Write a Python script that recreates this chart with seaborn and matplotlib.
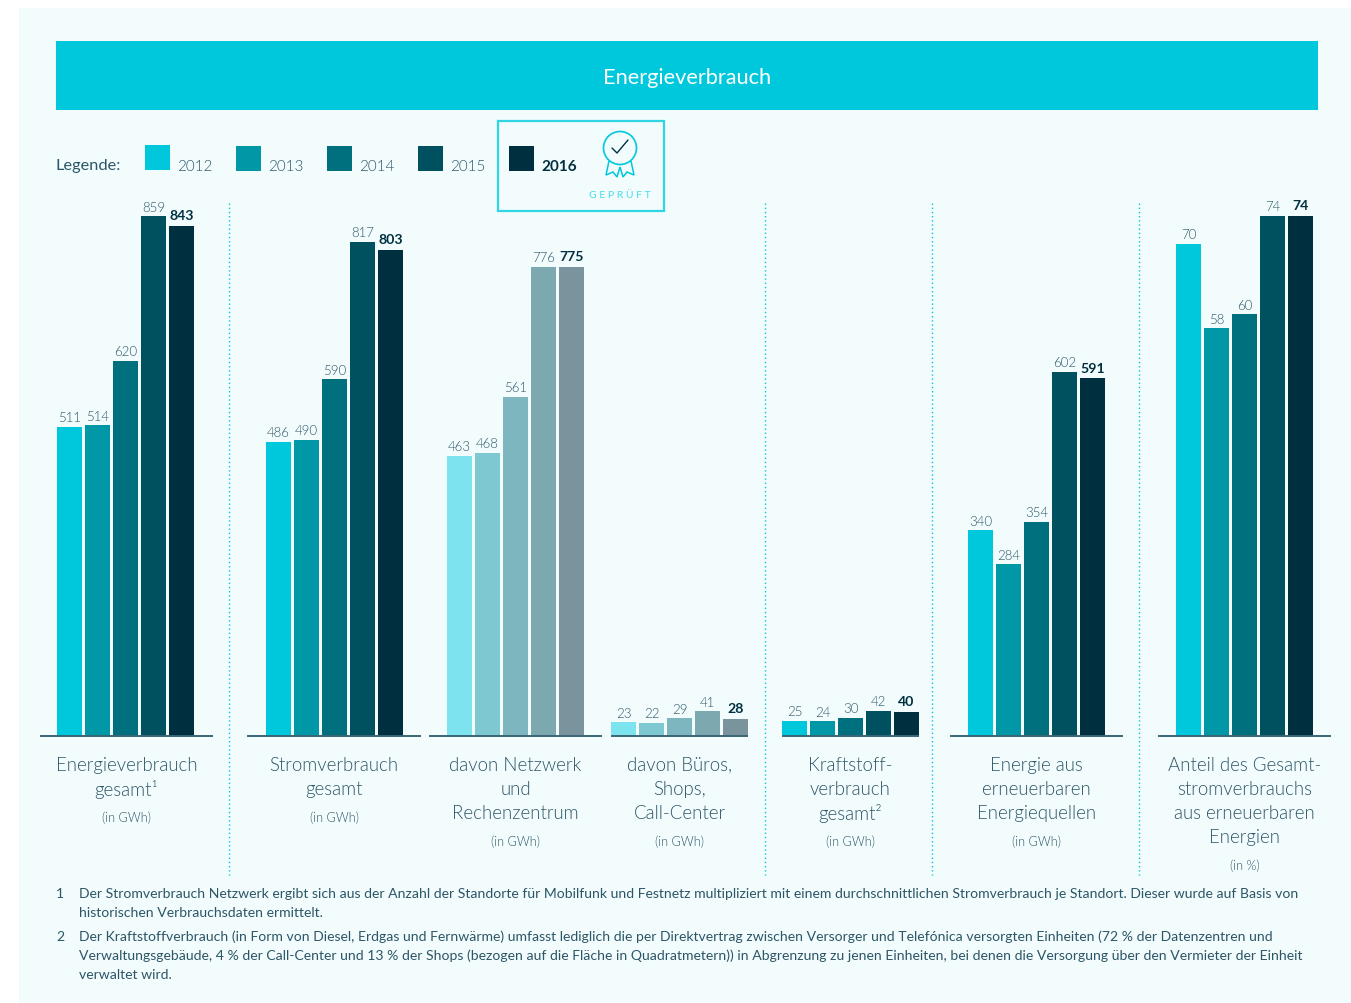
"""
Energieverbrauch Balken
"""
from matplotlib import pyplot as plt
from matplotlib.patches import Rectangle, Circle, Polygon
import pandas as pd
import seaborn as sns

W, H = 1351, 1004

years = ['2012', '2013', '2014', '2015', '2016']

gesamt = [511, 514, 620, 859, 843]
strom = [486, 490, 590, 817, 803]
netzwerk = [463, 468, 561, 776, 775]
bueros = [23, 22, 29, 41, 28]
kraftstoff = [25, 24, 30, 42, 40]
erneuerbar = [340, 284, 354, 602, 591]
anteil = [70, 58, 60, 74, 74]

colors = ['#00c8dc', '#0097a7', '#00707f', '#00515f', '#00303f']
colors_light = ['#7de3ee', '#7ec8d1', '#7eb6bf', '#7ca8b0', '#7a949e']

label_gesamt = ['Energieverbrauch', 'gesamt¹']
label_strom = ['Stromverbrauch', 'gesamt']
label_netzwerk = ['davon Netzwerk', 'und', 'Rechenzentrum']
label_bueros = ['davon Büros,', 'Shops,', 'Call-Center']
label_kraftstoff = ['Kraftstoff-', 'verbrauch', 'gesamt²']
label_erneuerbar = ['Energie aus', 'erneuerbaren', 'Energiequellen']
label_anteil = ['Anteil des Gesamt-', 'stromverbrauchs', 'aus erneuerbaren', 'Energien']

footnotes = [
    ('1', ['Der Stromverbrauch Netzwerk ergibt sich aus der Anzahl der Standorte für Mobilfunk und Festnetz multipliziert mit einem durchschnittlichen Stromverbrauch je Standort. Dieser wurde auf Basis von',
           'historischen Verbrauchsdaten ermittelt.'], 893),
    ('2', ['Der Kraftstoffverbrauch (in Form von Diesel, Erdgas und Fernwärme) umfasst lediglich die per Direktvertrag zwischen Versorger und Telefónica versorgten Einheiten (72 % der Datenzentren und',
           'Verwaltungsgebäude, 4 % der Call-Center und 13 % der Shops (bezogen auf die Fläche in Quadratmetern)) in Abgrenzung zu jenen Einheiten, bei denen die Versorgung über den Vermieter der Einheit',
           'verwaltet wird.'], 936),
]

BG = '#f2fcfd'
CYAN = '#00c8dc'
TXT = '#2c5566'
DARK = '#00303f'
FONT = 'Lato'
LIGHT = 300

sns.set_theme(style='white')
plt.rcParams['font.family'] = [FONT, 'DejaVu Sans']

fig = plt.figure(figsize=(W / 100, H / 100), dpi=100, facecolor='white')

# Hintergrund in Pixelkoordinaten
bg = fig.add_axes([0, 0, 1, 1], zorder=0)
bg.set_xlim(0, W)
bg.set_ylim(H - 1, -1)
bg.axis('off')
bg.add_patch(Rectangle((19, 8), W - 19, H - 8, color=BG, lw=0))
bg.add_patch(Rectangle((56, 41), 1262, 69, color=CYAN, lw=0))
bg.text(687, 76.5, 'Energieverbrauch', color='white', fontsize=15.7, ha='center', va='center')

# Legende
bg.text(55.5, 165, 'Legende:', color=TXT, fontsize=11.8, va='center')
legend_x = [145, 236, 327, 418, 509]
for i, (x, year) in enumerate(zip(legend_x, years)):
    bold = i == 4
    bg.add_patch(Rectangle((x, 145 + (0 if i == 0 else 1)), 25, 25, color=colors[i], lw=0))
    bg.text(x + 32.5, 166, year, fontsize=11, va='center',
            color=DARK if bold else TXT, fontweight='bold' if bold else LIGHT)
bg.add_patch(Rectangle((497.5, 120.5), 166, 90, fill=False, ec='#2fd5e5', lw=1.6))
bg.text(620, 194, 'G E P R Ü F T', color='#45dbe8', fontsize=7.5, ha='center', va='center')

# Siegel
bg.add_patch(Polygon([(609, 161), (606, 175), (613, 172), (617, 177), (620, 167), (623, 177), (627, 172), (634, 175), (631, 161)],
                     closed=False, fill=False, ec=CYAN, lw=1.1))
bg.add_patch(Circle((620, 148), 16.5, fc=BG, ec=CYAN, lw=1.2, zorder=3))
bg.plot([612, 617, 628], [148, 153, 140], color=DARK, lw=1.0, zorder=4)

# gepunktete Trennlinien
for x in [229, 765, 932, 1139]:
    bg.plot([x, x], [203, 875], color=CYAN, lw=1.0, ls=(0, (1, 2)))

BASE = 737
TOP = 190
PITCH = 28
BAR = 25


def draw_group(values, first_bar, left, right, lines, unit, px_per_unit, palette):
    """
    eine Balkengruppe, first_bar = linker Rand des ersten Balkens in Pixel
    """
    ax = fig.add_axes([left / W, 1 - BASE / H, (right - left) / W, (BASE - TOP) / H], zorder=2)
    ax.patch.set_alpha(0)
    df = pd.DataFrame({'year': years, 'value': values})
    sns.barplot(data=df, x='year', y='value', hue='year', palette=palette, legend=False,
                width=BAR / PITCH, saturation=1, linewidth=0, ax=ax)
    center = first_bar + BAR / 2
    ax.set_xlim((left - center) / PITCH, (right - center) / PITCH)
    ax.set_ylim(0, (BASE - TOP) / px_per_unit)
    ax.set_xlabel('')
    ax.set_ylabel('')
    ax.set_xticks([])
    ax.set_yticks([])
    for side in ['top', 'left', 'right']:
        ax.spines[side].set_visible(False)
    ax.spines['bottom'].set_color('#3a6675')
    ax.spines['bottom'].set_linewidth(1.4)
    ax.spines['bottom'].set_capstyle('butt')

    for i, cont in enumerate(ax.containers):
        if i == 4:
            ax.bar_label(cont, labels=[str(values[i])], padding=3.5, fontsize=10.2,
                         color=DARK, fontweight='bold')
        else:
            ax.bar_label(cont, labels=[str(values[i])], padding=2.5, fontsize=9.5,
                         color=TXT, fontweight=LIGHT)

    mid = (left + right) / 2
    y = 764.5
    for line in lines:
        bg.text(mid, y, line, color=TXT, fontsize=13.4, ha='center', va='center', fontweight=LIGHT)
        y += 24
    bg.text(mid, y + 4, unit, color=TXT, fontsize=9.1, ha='center', va='center', fontweight=LIGHT)


GWH = 0.605
PCT = 7.03
draw_group(gesamt, 57, 40, 213, label_gesamt, '(in GWh)', GWH, colors)
draw_group(strom, 266, 247, 421, label_strom, '(in GWh)', GWH, colors)
draw_group(netzwerk, 447, 429, 602, label_netzwerk, '(in GWh)', GWH, colors_light)
draw_group(bueros, 611, 611, 748, label_bueros, '(in GWh)', GWH, colors_light)
draw_group(kraftstoff, 782, 782, 919, label_kraftstoff, '(in GWh)', GWH, colors)
draw_group(erneuerbar, 968, 950, 1123, label_erneuerbar, '(in GWh)', GWH, colors)
draw_group(anteil, 1176, 1158, 1331, label_anteil, '(in %)', PCT, colors)

for num, rows, y in footnotes:
    bg.text(56, y, num, color=TXT, fontsize=10.1, va='center')
    for k, row in enumerate(rows):
        bg.text(79, y + k * 19, row, color=TXT, fontsize=10.1, va='center')

plt.savefig('out.png', dpi=100)
